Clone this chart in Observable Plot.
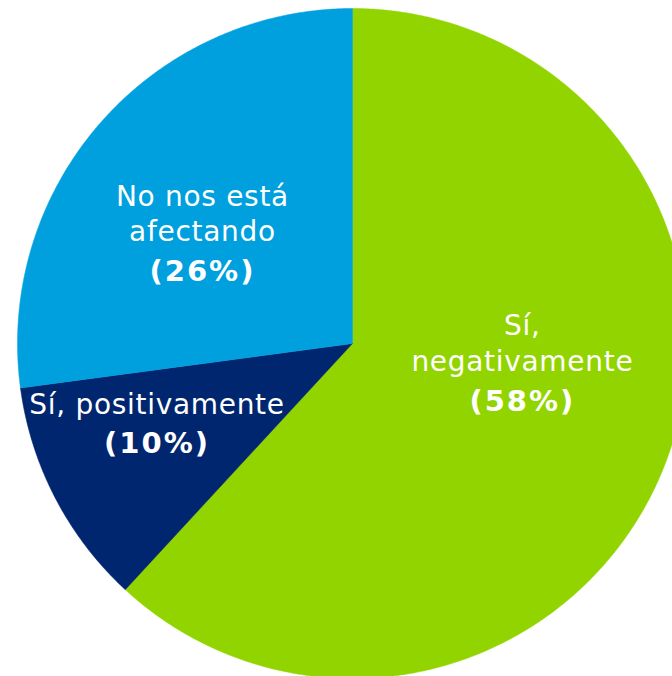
<!DOCTYPE html>
<html>
<head>
<meta charset="utf-8">
<script src="https://cdn.jsdelivr.net/npm/d3@7"></script>
<script src="https://cdn.jsdelivr.net/npm/@observablehq/plot@0.6"></script>
<style>
  html, body { margin: 0; padding: 0; background: #fff; overflow: hidden; }
  #chart svg { display: block; }
  #chart text.name { letter-spacing: 0.7px; }
  #chart text.pct { letter-spacing: 2px; }
</style>
</head>
<body>
<div id="chart"></div>
<script>
// Data (slice sizes; labels as printed)
const categories = ["Sí, negativamente", "Sí, positivamente", "No nos está afectando"];
const values = [58.4, 10.4, 25.6];
const labelNames = ["Sí,\nnegativamente", "Sí, positivamente", "No nos está\nafectando"];
const percentLabels = ["(58%)", "(10%)", "(26%)"];
const colors = ["#92D400", "#00266F", "#00A0DE"];

// Label anchor positions (unit-circle coordinates, baseline of last line)
const nameX = [0.507, -0.5836, -0.448];
const nameY = [-0.0806, -0.209, 0.3045];
const pctX = [0.507, -0.5836, -0.448];
const pctY = [-0.2, -0.328, 0.188];

const W = 672, H = 676, R = 335, CX = 352, CY = 343;

const pie = d3.pie().sort(null).value(d => d.value);
const arcs = pie(categories.map((c, i) => ({category: c, value: values[i]})));

const slicePoints = [];
for (const a of arcs) {
  const cat = a.data.category;
  slicePoints.push({category: cat, x: 0, y: 0});
  const n = Math.max(2, Math.ceil((a.endAngle - a.startAngle) / (Math.PI / 360)));
  for (let k = 0; k <= n; k++) {
    const t = a.startAngle + (a.endAngle - a.startAngle) * k / n;
    slicePoints.push({category: cat, x: Math.sin(t), y: Math.cos(t)});
  }
  slicePoints.push({category: cat, x: 0, y: 0});
}

const labels = categories.map((c, i) => ({
  category: c, name: labelNames[i], pct: percentLabels[i],
  nx: nameX[i], ny: nameY[i], px: pctX[i], py: pctY[i]
}));

const chart = Plot.plot({
  width: W,
  height: H,
  margin: 0,
  x: {domain: [-CX / R, (W - CX) / R], range: [0, W], axis: null},
  y: {domain: [-(H - CY) / R, CY / R], range: [H, 0], axis: null},
  color: {domain: categories, range: colors},
  style: {fontFamily: "DejaVu Sans, Verdana, sans-serif", background: "#fff"},
  marks: [
    Plot.line(slicePoints, {x: "x", y: "y", z: "category", fill: "category", stroke: "category", strokeWidth: 0.5, curve: "linear"}),
    Plot.text(labels, {x: "nx", y: "ny", text: "name", fill: "white", fontSize: 28, lineHeight: 1.28, textAnchor: "middle", lineAnchor: "bottom", className: "name"}),
    Plot.text(labels, {x: "px", y: "py", text: "pct", fill: "white", fontSize: 29, fontWeight: "bold", textAnchor: "middle", lineAnchor: "bottom", className: "pct"})
  ]
});
chart.querySelectorAll("g").forEach(g => {
  const cls = g.getAttribute("class") || "";
  if (cls.includes("name")) g.querySelectorAll("text").forEach(t => t.classList.add("name"));
  if (cls.includes("pct")) g.querySelectorAll("text").forEach(t => t.classList.add("pct"));
});
document.getElementById("chart").appendChild(chart);
</script>
</body>
</html>
